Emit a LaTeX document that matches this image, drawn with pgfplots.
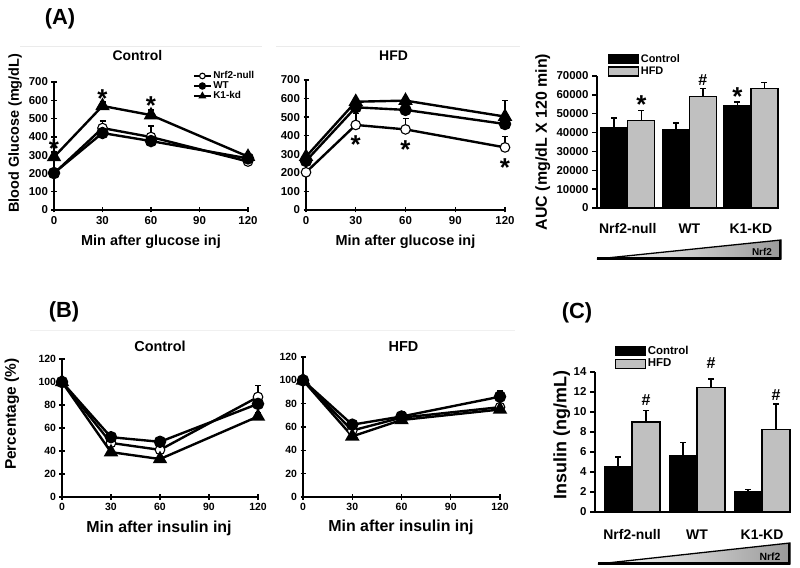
\documentclass[border=0pt]{standalone}
\usepackage{fontspec}
\setmainfont{Liberation Sans}
\usepackage{pgfplots}
\pgfplotsset{compat=1.18}
\definecolor{hfdgray}{RGB}{192,192,192}
\newcommand\fs[1]{\fontsize{#1}{#1}\selectfont\bfseries}
\pgfplotsset{
  base/.style={scale only axis, anchor=south west, clip=false,
    axis x line*=bottom, axis y line*=left,
    axis line style={line width=1.3pt, -, black},
    tick style={line width=1.3pt, black}, major tick length=5bp,
    /pgf/number format/assume math mode=true,
    /pgf/number format/1000 sep={},
    scaled y ticks=false},
  lineax/.style={base, tick align=center, xmin=0, xmax=120, xtick={0,30,60,90,120}},
  eb/.style={error bars/.cd, y dir=plus, y explicit,
    error bar style={line width=1.5pt, black, solid},
    error mark options={rotate=90, mark size=3bp, line width=1.5pt, black}},
  nn/.style={black, line width=2.4pt, mark=*, mark size=4.8bp, mark options={fill=white, draw=black, line width=1.1pt, solid}, eb},
  wt/.style={black, line width=2.4pt, mark=*, mark size=5bp, mark options={fill=black, solid}, eb},
  kd/.style={black, line width=2.4pt, mark=triangle*, mark size=6bp, mark options={fill=black, solid}, eb},
  barax/.style={base, tick align=outside, ybar=0pt, xtick={0,1,2},
    xtick style={draw=none},
    xticklabels={Nrf2-null,WT,K1-KD},
    xticklabel style={font=\fs{14}, yshift=-7bp},
    legend cell align=left,
    legend style={draw=none, fill=none, anchor=north west, font=\fs{11}, row sep=0bp, nodes={inner sep=1.5bp}},
    legend image code/.code={\draw[#1, line width=1.2pt] (0bp,-4.5bp) rectangle (30bp,4.5bp);}},
  barctl/.style={fill=black, draw=black, line width=1.2pt, eb},
  barhfd/.style={fill=hfdgray, draw=black, line width=1.2pt, eb},
}
\begin{document}
\begin{tikzpicture}
\useasboundingbox (0bp,0bp) rectangle (800bp,568bp);
\begin{scope}[x=1bp,y=1bp]
% faint frame lines
\draw[black!8, line width=1pt] (20,522) -- (262,522);
\draw[black!8, line width=1pt] (276,522) -- (520,522);
\draw[black!6, line width=1pt] (30,238) -- (515,238);
% panel letters
\node[font=\fs{22}] at (60,549) {(A)};
\node[font=\fs{22}] at (64,256) {(B)};
\node[font=\fs{22}] at (577,255) {(C)};
% wedge A
\shade[left color=white, right color=black!40] (597,309) -- (781,309) -- (781,328) -- cycle;
\draw[line width=1.3pt, line join=miter] (597,309) -- (781,309) -- (781,328) -- cycle;
\draw[line width=2.6pt] (597,309.5) -- (781,309.5);
\draw[line width=2.6pt] (780,309) -- (780,328);
\node[font=\fs{10}] at (762,316) {Nrf2};
% wedge C
\shade[left color=white, right color=black!40] (598,4) -- (790,4) -- (790,25) -- cycle;
\draw[line width=1.3pt, line join=miter] (598,4) -- (790,4) -- (790,25) -- cycle;
\draw[line width=2.6pt] (598,4.5) -- (790,4.5);
\draw[line width=2.6pt] (789,4) -- (789,25);
\node[font=\fs{10.5}] at (770,11) {Nrf2};
\end{scope}

% ---------- A: Control GTT ----------
\begin{axis}[lineax, at={(54bp,358bp)}, width=194bp, height=128bp,
  ymin=0, ymax=700, ytick={0,100,...,700},
  ticklabel style={font=\fs{11.5}},
  xlabel={Min after glucose inj}, xlabel style={font=\fs{14.5}, at={(axis description cs:0.5,-0.25)}, anchor=center},
  ylabel={Blood Glucose (mg/dL)}, ylabel style={font=\fs{14.5}, at={(axis description cs:-0.20,0.60)}, anchor=center},
  title={Control}, title style={font=\fs{14}, at={(axis description cs:0.43,1.16)}, anchor=center},
  legend cell align=left,
  legend style={draw=none, fill=none, at={(0.70,1.11)}, anchor=north west, font=\fs{10}, row sep=-1.5bp, nodes={inner sep=1.5bp}},
  legend image post style={mark size=2.8bp, line width=1.8pt},
]
\addplot[nn] coordinates {(0,200) +- (0,0) (30,448) +- (0,39) (60,399) +- (0,60) (120,265) +- (0,8)};
\addplot[wt] coordinates {(0,202) +- (0,0) (30,421) +- (0,8) (60,377) +- (0,8) (120,282) +- (0,8)};
\addplot[kd] coordinates {(0,290) +- (0,27) (30,569) +- (0,22) (60,519) +- (0,28) (120,292) +- (0,10)};
\legend{Nrf2-null,WT,K1-kd}
\node[font=\fs{26}, yshift=-5bp] at (axis cs:0,361) {*};
\node[font=\fs{26}, yshift=-5bp] at (axis cs:30,634) {*};
\node[font=\fs{26}, yshift=-5bp] at (axis cs:60,601) {*};
\end{axis}

% ---------- A: HFD GTT ----------
\begin{axis}[lineax, at={(306bp,358bp)}, width=199bp, height=130bp,
  ymin=0, ymax=700, ytick={0,100,...,700},
  ticklabel style={font=\fs{11.5}},
  xlabel={Min after glucose inj}, xlabel style={font=\fs{14.5}, at={(axis description cs:0.5,-0.246)}, anchor=center},
  title={HFD}, title style={font=\fs{14}, at={(axis description cs:0.44,1.14)}, anchor=center},
]
\addplot[nn] coordinates {(0,203) +- (0,0) (30,458) +- (0,62) (60,434) +- (0,60) (120,337) +- (0,58)};
\addplot[wt] coordinates {(0,264) +- (0,8) (30,553) +- (0,10) (60,539) +- (0,10) (120,463) +- (0,10)};
\addplot[kd] coordinates {(0,287) +- (0,8) (30,583) +- (0,10) (60,589) +- (0,12) (120,503) +- (0,87)};
\node[font=\fs{26}, yshift=-5bp] at (axis cs:30,377) {*};
\node[font=\fs{26}, yshift=-5bp] at (axis cs:60,350) {*};
\node[font=\fs{26}, yshift=-5bp] at (axis cs:120,257) {*};
\end{axis}

% ---------- A: AUC bars ----------
\begin{axis}[barax, at={(597bp,360bp)}, width=181bp, height=132bp,
  xmin=-0.5, xmax=2.44, bar width=0.44,
  ymin=0, ymax=70000, ytick={0,10000,...,70000},
  yticklabel style={font=\fs{11.5}},
  ylabel={AUC (mg/dL X 120 min)}, ylabel style={font=\fs{16}, at={(axis description cs:-0.30,0.50)}, anchor=center},
  legend style={at={(0.044,1.19)}},
]
\addplot[barctl] coordinates {(0,42700) +- (0,4900) (1,41400) +- (0,3600) (2,54100) +- (0,2000)};
\addplot[barhfd] coordinates {(0,46400) +- (0,5300) (1,59100) +- (0,4400) (2,63500) +- (0,3000)};
\legend{Control,HFD}
\node[font=\fs{26}, yshift=-5bp] at (axis cs:0.22,57300) {*};
\node[font=\fs{16}] at (axis cs:1.22,67900) {\#};
\node[font=\fs{26}, yshift=-5bp] at (axis cs:1.78,61700) {*};
\end{axis}

% ---------- B: Control ITT ----------
\begin{axis}[lineax, at={(62bp,71bp)}, width=196bp, height=138bp,
  ymin=0, ymax=120, ytick={0,20,...,120},
  ticklabel style={font=\fs{10.5}},
  xlabel={Min after insulin inj}, xlabel style={font=\fs{16}, at={(axis description cs:0.495,-0.23)}, anchor=center},
  ylabel={Percentage (\%)}, ylabel style={font=\fs{15.5}, at={(axis description cs:-0.255,0.60)}, anchor=center},
  title={Control}, title style={font=\fs{14.5}, at={(axis description cs:0.5,1.05)}, anchor=center},
]
\addplot[nn] coordinates {(0,100) +- (0,0) (30,47) +- (0,3) (60,41) +- (0,3) (120,87) +- (0,10)};
\addplot[wt] coordinates {(0,100) +- (0,0) (30,52) +- (0,3) (60,48) +- (0,2) (120,81) +- (0,4)};
\addplot[kd] coordinates {(0,100) +- (0,0) (30,39) +- (0,2) (60,33) +- (0,2) (120,70) +- (0,3)};
\end{axis}

% ---------- B: HFD ITT ----------
\begin{axis}[lineax, at={(303bp,71bp)}, width=197bp, height=140bp,
  ymin=0, ymax=120, ytick={0,20,...,120},
  ticklabel style={font=\fs{10.5}},
  xlabel={Min after insulin inj}, xlabel style={font=\fs{16}, at={(axis description cs:0.497,-0.215)}, anchor=center},
  title={HFD}, title style={font=\fs{14.5}, at={(axis description cs:0.51,1.03)}, anchor=center},
]
\addplot[nn] coordinates {(0,100) +- (0,0) (30,57) +- (0,3) (60,68) +- (0,3) (120,77) +- (0,3)};
\addplot[wt] coordinates {(0,100) +- (0,0) (30,62) +- (0,3) (60,69) +- (0,4) (120,86) +- (0,5)};
\addplot[kd] coordinates {(0,100) +- (0,0) (30,52) +- (0,2) (60,66) +- (0,3) (120,75) +- (0,2)};
\end{axis}

% ---------- C: Insulin ----------
\begin{axis}[barax, at={(595bp,56bp)}, width=195bp, height=140bp,
  xmin=-0.57, xmax=2.43, bar width=0.43,
  ymin=0, ymax=14, ytick={0,2,...,14},
  yticklabel style={font=\fs{11.5}},
  xticklabel style={yshift=-2bp},
  ylabel={Insulin (ng/mL)}, ylabel style={font=\fs{18}, at={(axis description cs:-0.17,0.55)}, anchor=center},
  legend style={at={(0.087,1.21)}, font=\fs{11.5}},
]
\addplot[barctl] coordinates {(0,4.5) +- (0,1.0) (1,5.6) +- (0,1.35) (2,2.0) +- (0,0.23)};
\addplot[barhfd] coordinates {(0,9.0) +- (0,1.15) (1,12.43) +- (0,0.85) (2,8.23) +- (0,2.55)};
\legend{Control,HFD}
\node[font=\fs{16}] at (axis cs:0.215,11.2) {\#};
\node[font=\fs{16}] at (axis cs:1.215,14.9) {\#};
\node[font=\fs{16}] at (axis cs:2.215,11.7) {\#};
\end{axis}
\end{tikzpicture}
\end{document}
